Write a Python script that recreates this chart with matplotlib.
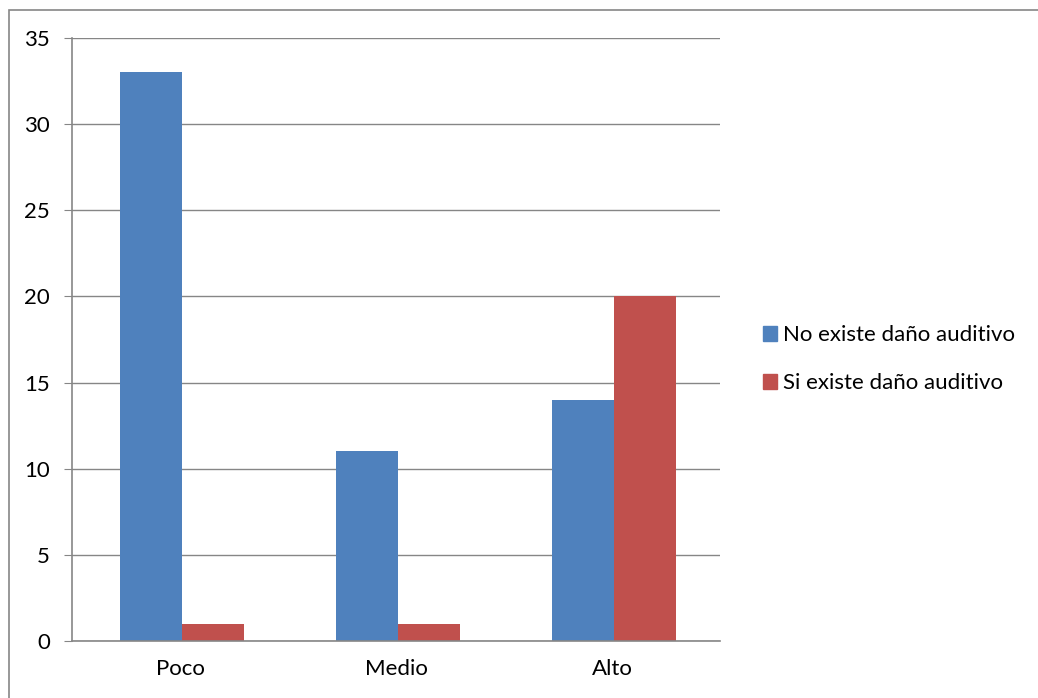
import numpy as np
import matplotlib.pyplot as plt
from matplotlib.patches import Rectangle, Patch

# Chart data
categories = ["Poco", "Medio", "Alto"]
no_existe = [33, 11, 14]
si_existe = [1, 1, 20]
series_names = ["No existe daño auditivo", "Si existe daño auditivo"]

blue = "#4F81BD"
red = "#C0504D"
grey = "#868686"

plt.rcParams['font.family'] = ['Lato', 'DejaVu Sans']

W, H = 1038, 698
fig = plt.figure(figsize=(W / 100, H / 100), dpi=100)

# Outer chart border (only top and left visible in the reference)
fig.patches.append(Rectangle((9 / W, -0.1), 1.2, (H - 10) / H + 0.1,
                             transform=fig.transFigure, fill=False,
                             edgecolor=grey, linewidth=1.2))

ax = fig.add_axes([72 / W, (H - 641) / H, (720 - 72) / W, (641 - 38) / H])

x = np.arange(len(categories))
bw = 0.287
ax.bar(x - bw / 2 + 0.008, no_existe, bw, color=blue, label=series_names[0])
ax.bar(x + bw / 2 + 0.008, si_existe, bw, color=red, label=series_names[1])

ax.set_xlim(-0.5, 2.5)
ax.set_ylim(0, 35)
ax.set_yticks(range(0, 36, 5))
ax.set_xticks(x)
ax.set_xticklabels(categories)
ax.yaxis.grid(True, color=grey, linewidth=1)
ax.set_axisbelow(True)

for s in ["top", "right"]:
    ax.spines[s].set_visible(False)
for s in ["left", "bottom"]:
    ax.spines[s].set_color(grey)
    ax.spines[s].set_linewidth(1.2)

ax.tick_params(axis='y', length=6, color=grey, labelsize=16, pad=10)
ax.tick_params(axis='x', length=0, labelsize=16, pad=13)

handles = [Patch(color=blue), Patch(color=red)]
fig.legend(handles, series_names, loc="upper left",
           bbox_to_anchor=(743 / W, 1 - 305 / H), frameon=False,
           fontsize=16, handlelength=0.65, handleheight=0.65,
           handletextpad=0.25, labelspacing=1.27)

fig.savefig("out.png", dpi=100)
